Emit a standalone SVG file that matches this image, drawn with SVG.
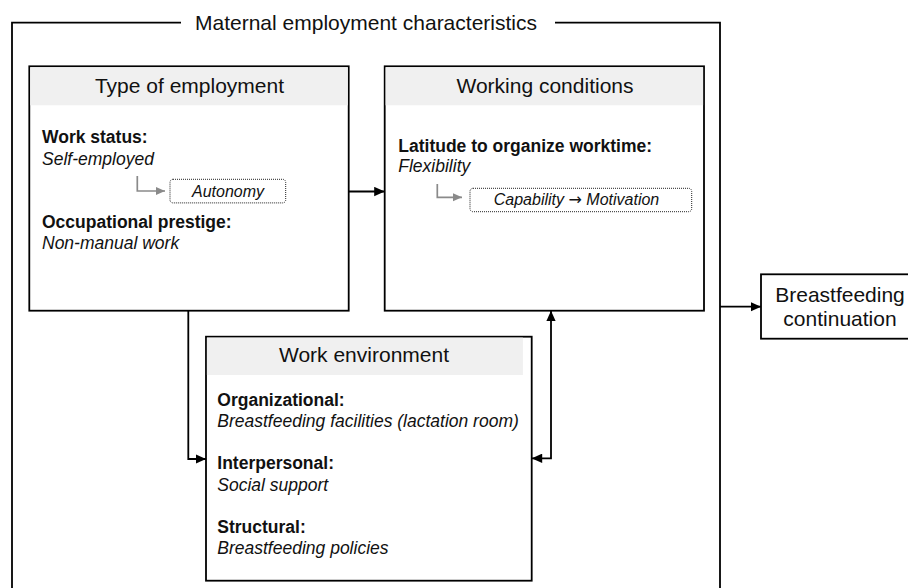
<svg xmlns="http://www.w3.org/2000/svg" width="908" height="588" viewBox="0 0 908 588">
  <style>
    .box { fill: #ffffff; stroke: #000000; stroke-width: 1.8; }
    .band { fill: #f0f0f0; stroke: none; }
    .title { font-family: "Liberation Sans", Arial, sans-serif; font-size: 21px; fill: #111111; text-anchor: middle; }
    .bold { font-family: "Liberation Sans", Arial, sans-serif; font-size: 17.5px; font-weight: bold; fill: #111111; }
    .ital { font-family: "Liberation Sans", Arial, sans-serif; font-size: 17.5px; font-style: italic; fill: #111111; }
    .small { font-family: "Liberation Sans", Arial, sans-serif; font-size: 16px; font-style: italic; fill: #111111; text-anchor: middle; }
    .sym { font-family: "DejaVu Sans", sans-serif; font-style: normal; }
    .dotbox { fill: #ffffff; stroke: #222222; stroke-width: 1; stroke-dasharray: 1 1; }
    .conn { fill: none; stroke: #000000; stroke-width: 1.8; }
    .gconn { fill: none; stroke: #8a8a8a; stroke-width: 1.7; }
    .frame { fill: none; stroke: #000000; stroke-width: 1.8; }
  </style>
  <defs>
    <marker id="arr" markerUnits="userSpaceOnUse" markerWidth="11" markerHeight="10" refX="10.5" refY="4.7" orient="auto">
      <path d="M0,0 L10.5,4.7 L0,9.4 z" fill="#000000"/>
    </marker>
    <marker id="arrStart" markerUnits="userSpaceOnUse" markerWidth="11" markerHeight="10" refX="0" refY="4.7" orient="auto">
      <path d="M10.5,0 L0,4.7 L10.5,9.4 z" fill="#000000"/>
    </marker>
    <marker id="garr" markerUnits="userSpaceOnUse" markerWidth="10" markerHeight="9" refX="9" refY="4" orient="auto">
      <path d="M0,0 L9,4 L0,8 z" fill="#8a8a8a"/>
    </marker>
  </defs>
  <rect width="908" height="588" fill="#ffffff"/>

  <g id="frame">
    <path class="frame" d="M181,22.7 H12 V600"/>
    <path class="frame" d="M555,22.7 H720 V600"/>
    <text class="title" x="366" y="29.5">Maternal employment characteristics</text>
  </g>

  <g id="type-of-employment">
    <rect class="box" x="29.3" y="66.3" width="319.4" height="244.4"/>
    <rect class="band" x="30.2" y="67.2" width="317.6" height="38.1"/>
    <text class="title" x="189.5" y="93.3">Type of employment</text>
    <text class="bold" x="42" y="143.3">Work status:</text>
    <text class="ital" x="42" y="164.5">Self-employed</text>
    <path class="gconn" d="M137.3,176 V191 H165" marker-end="url(#garr)"/>
    <rect class="dotbox" x="170" y="179.3" width="115.7" height="23.6" rx="3"/>
    <text class="small" x="228" y="196.5">Autonomy</text>
    <text class="bold" x="42" y="227.7">Occupational prestige:</text>
    <text class="ital" x="42" y="249">Non-manual work</text>
  </g>

  <g id="working-conditions">
    <rect class="box" x="384.7" y="66.3" width="319.3" height="244.4"/>
    <rect class="band" x="385.6" y="67.2" width="317.5" height="38.1"/>
    <text class="title" x="545" y="93.3">Working conditions</text>
    <text class="bold" x="398.3" y="151.7">Latitude to organize worktime:</text>
    <text class="ital" x="398.3" y="172">Flexibility</text>
    <path class="gconn" d="M437.3,184 V197.3 H462" marker-end="url(#garr)"/>
    <rect class="dotbox" x="470" y="188.3" width="221.7" height="23.4" rx="3"/>
    <text class="small" x="576.5" y="204.5">Capability <tspan class="sym">→</tspan> Motivation</text>
  </g>

  <g id="work-environment">
    <rect class="box" x="206" y="336.7" width="325.7" height="244"/>
    <rect class="band" x="206.9" y="337.6" width="316" height="37.4"/>
    <text class="title" x="364" y="362.3">Work environment</text>
    <text class="bold" x="217.3" y="405.7">Organizational:</text>
    <text class="ital" x="217.3" y="427">Breastfeeding facilities (lactation room)</text>
    <text class="bold" x="217.3" y="469.3">Interpersonal:</text>
    <text class="ital" x="217.3" y="490.5">Social support</text>
    <text class="bold" x="217.3" y="532.7">Structural:</text>
    <text class="ital" x="217.3" y="553.5">Breastfeeding policies</text>
  </g>

  <g id="breastfeeding-continuation">
    <rect class="box" x="761" y="274.3" width="160" height="64.4"/>
    <text class="title" x="840" y="302">Breastfeeding</text>
    <text class="title" x="840" y="325.7">continuation</text>
  </g>

  <g id="connectors">
    <path class="conn" d="M348.7,191.5 H384.7" marker-end="url(#arr)"/>
    <path class="conn" d="M188.3,310.7 V459 H206" marker-end="url(#arr)"/>
    <path class="conn" d="M531.7,458.3 H551 V310.7" marker-start="url(#arrStart)" marker-end="url(#arr)"/>
    <path class="conn" d="M720,306.7 H761" marker-end="url(#arr)"/>
  </g>
</svg>
